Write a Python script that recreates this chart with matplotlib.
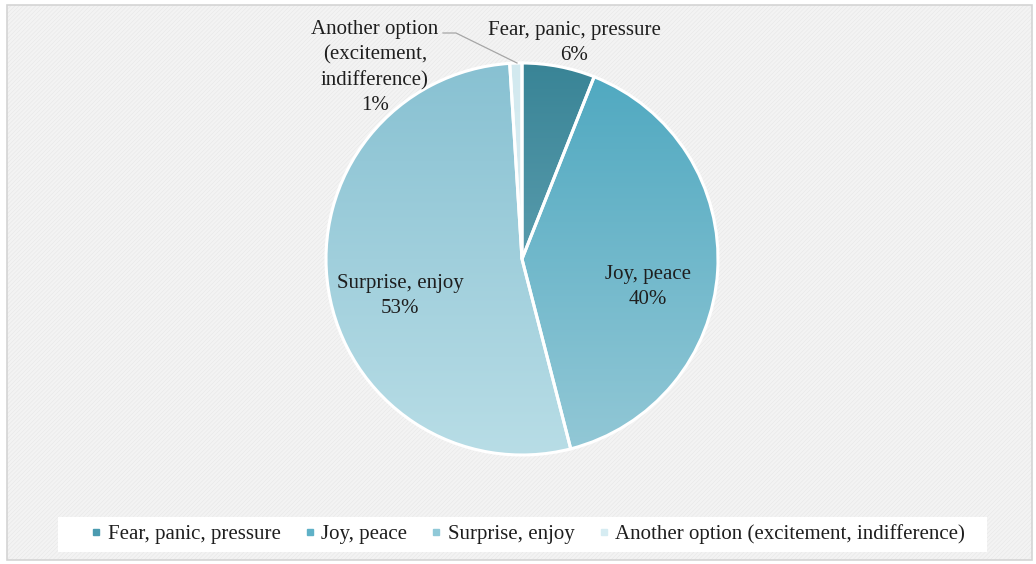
import matplotlib.pyplot as plt
import numpy as np
from matplotlib.colors import LinearSegmentedColormap
from matplotlib.lines import Line2D
from matplotlib.patches import Rectangle

plt.rcParams['font.family'] = ['Liberation Serif', 'DejaVu Serif']

categories = ['Fear, panic, pressure', 'Joy, peace', 'Surprise, enjoy',
              'Another option (excitement, indifference)']
pie_labels = ['Fear, panic, pressure', 'Joy, peace', 'Surprise, enjoy',
              'Another option\n(excitement,\nindifference)']
shares = [6, 40, 53, 1]

# top / bottom colours of each slice gradient, legend swatch colour
top_colors = ['#398496', '#4ea8c0', '#88c1d2', '#d2e9ef']
bottom_colors = ['#78b3c3', '#93c8d6', '#b8dde6', '#e2f1f5']
swatch_colors = ['#4b9bb0', '#5fb1c7', '#90c9d8', '#d6ecf2']

W, H = 1036, 564
fig = plt.figure(figsize=(W / 100, H / 100), dpi=100)
fig.patch.set_facecolor('white')
ax = fig.add_axes([0, 0, 1, 1])


def py(y):
    # image-style y (from top) to data y
    return H - y


# chart area: light grey with fine diagonal hatch and thin border
plt.rcParams['hatch.linewidth'] = 0.4
ax.add_patch(Rectangle((7, py(560)), 1025, 555, facecolor='#f3f3f3',
                       edgecolor='#e7e7e7', hatch='////////', linewidth=0,
                       zorder=0))
ax.add_patch(Rectangle((7, py(560)), 1025, 555, facecolor='none',
                       edgecolor='#d4d4d4', linewidth=1.2, zorder=1))

cx, cy, r = 522, py(259), 196
wedges, _ = ax.pie(shares, startangle=90, counterclock=False,
                   center=(cx, cy), radius=r, frame=True,
                   wedgeprops=dict(edgecolor='white', linewidth=2.2))
ax.set_xlim(0, W)
ax.set_ylim(0, H)
ax.set_aspect('equal')
ax.axis('off')

grad = np.linspace(0, 1, 256).reshape(-1, 1)
for w, c0, c1 in zip(wedges, top_colors, bottom_colors):
    w.set_facecolor('none')
    w.set_zorder(3)
    cmap = LinearSegmentedColormap.from_list('g', [c0, c1])
    im = ax.imshow(grad, cmap=cmap, aspect='auto', origin='upper',
                   extent=(cx - r, cx + r, cy - r, cy + r), zorder=2)
    im.set_clip_path(w)

txt = dict(ha='center', va='center', fontsize=15, color='#1e1e1e',
           linespacing=1.45, zorder=5)
ax.text(574, py(43), f'{pie_labels[0]}\n{shares[0]}%', **txt)
ax.text(648, py(287), f'{pie_labels[1]}\n{shares[1]}%', **txt)
ax.text(400, py(296), f'{pie_labels[2]}\n{shares[2]}%', **txt)
ax.text(375, py(67.5), f'{pie_labels[3]}\n{shares[3]}%', **txt)

# leader line for the smallest slice
ax.plot([443, 456, 517], [py(33), py(33), py(63)], color='#a6a6a6',
        linewidth=0.9, zorder=4)

# white legend panel
ax.add_patch(Rectangle((58, py(552)), 929, 35, facecolor='white',
                       edgecolor='none', zorder=1))

handles = [Line2D([], [], marker='s', linestyle='none', markersize=5,
                  markerfacecolor=c, markeredgecolor=c) for c in swatch_colors]
leg = fig.legend(handles, categories, ncol=4, loc='center',
                 bbox_to_anchor=(528 / W, 1 - 534.5 / H), fontsize=15,
                 frameon=False, handlelength=0.5, handletextpad=0.3,
                 columnspacing=1.15, labelcolor='#1e1e1e')

fig.savefig('out.png', dpi=100, facecolor='white')
